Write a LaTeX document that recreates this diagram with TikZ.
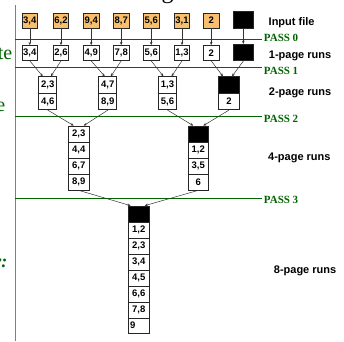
\documentclass[tikz,border=0pt]{standalone}
\usepackage{fontspec}
\setmainfont{Liberation Serif}
\setsansfont{Liberation Sans}
\usetikzlibrary{arrows.meta}
\definecolor{inorange}{RGB}{248,192,110}
\definecolor{passgreen}{RGB}{0,100,0}
\begin{document}
\begin{tikzpicture}[x=1pt,y=-1pt,
  cell/.style={draw=black!85, line width=0.7pt, inner sep=0pt,
    font=\sffamily\bfseries\fontsize{9.5}{10}\selectfont},
  inp/.style={cell, fill=inorange, minimum width=15.5pt, minimum height=15pt},
  one/.style={cell, fill=white, minimum width=15.5pt, minimum height=15pt},
  two/.style={cell, fill=white, minimum width=18pt, minimum height=16.5pt},
  four/.style={cell, fill=white, minimum width=20.5pt, minimum height=16pt},
  blk/.style={fill=black},
  arr/.style={-{Stealth[length=3.2pt,width=2.6pt]}, line width=0.5pt, draw=black!80},
  passline/.style={draw=passgreen, line width=1pt},
  passlbl/.style={anchor=base west, text=passgreen, font=\bfseries\fontsize{11}{12}\selectfont, inner sep=0pt},
  runlbl/.style={anchor=base west, font=\sffamily\bfseries\fontsize{11}{12}\selectfont, inner sep=0pt},
  frag/.style={anchor=base east, text=passgreen, font=\fontsize{20}{22}\selectfont, inner sep=0pt}
]
\useasboundingbox (0,0) rectangle (344,341);
% slide fragments
\draw[gray, line width=1.3pt] (15.3,5) -- (15.3,341);
\node[anchor=base, inner sep=0pt, font=\fontsize{24}{24}\selectfont] (ttl) at (167.5,-2) {g};
\node[frag] (f1) at (12.5,59) {te};
\node[frag] (f2) at (5.5,111.7) {e};
\node[frag, font=\bfseries\itshape\fontsize{18}{20}\selectfont] (f3) at (7.5,267) {r:};

% pass lines and labels
\foreach \yy/\t/\b in {39/0/41.3, 67/1/74, 116/2/122.7, 198.3/3/203.3}{
  \draw[passline] (15.3,\yy) -- (262,\yy);
  \node[passlbl] (p\t) at (263.7,\b) {PASS \t};
}
\node[runlbl] (l0) at (268.5,25) {Input file};
\node[runlbl] (l1) at (268.7,58) {1-page runs};
\node[runlbl] (l2) at (268.7,95) {2-page runs};
\node[runlbl] (l4) at (268,160) {4-page runs};
\node[runlbl] (l8) at (273.7,273) {8-page runs};

% input file
\node[inp] (i1) at (29.8,20.5) {3,4};
\node[inp] (i2) at (61,20.5) {6,2};
\node[inp] (i3) at (91.2,20.5) {9,4};
\node[inp] (i4) at (121.2,20.5) {8,7};
\node[inp] (i5) at (151.2,20.5) {5,6};
\node[inp] (i6) at (182,20.5) {3,1};
\node[inp] (i7) at (211.2,20.5) {2};
\node[cell, blk, minimum width=20.5pt, minimum height=16.5pt] (i8) at (243.3,20) {};

% 1-page runs
\node[one] (r1) at (29.8,53) {3,4};
\node[one] (r2) at (61,53) {2,6};
\node[one] (r3) at (91.2,53) {4,9};
\node[one] (r4) at (121.2,53) {7,8};
\node[one] (r5) at (151.2,53) {5,6};
\node[one] (r6) at (182,53) {1,3};
\node[one] (r7) at (211.2,53) {2};
\node[cell, blk, minimum width=20.5pt, minimum height=16.5pt] (r8) at (243.3,52.5) {};

\foreach \k in {1,...,8}{\draw[arr] (i\k.south) -- (r\k.north);}

% 2-page runs
\node[two] (g1a) at (47.8,85) {2,3};
\node[two] (g1b) at (47.8,101.5) {4,6};
\node[two] (g2a) at (107.8,85) {4,7};
\node[two] (g2b) at (107.8,101.5) {8,9};
\node[two] (g3a) at (167.5,85) {1,3};
\node[two] (g3b) at (167.5,101.5) {5,6};
\node[two, blk, minimum width=20.5pt] (g4a) at (229,85) {};
\node[two, minimum width=20.5pt] (g4b) at (229,101.5) {2};

\draw[arr] (r1.south) -- ([xshift=-5pt]g1a.north);
\draw[arr] (r2.south) -- ([xshift=3pt]g1a.north);
\draw[arr] (r3.south) -- ([xshift=-3pt]g2a.north);
\draw[arr] (r4.south) -- ([xshift=3pt]g2a.north);
\draw[arr] (r5.south) -- ([xshift=-4pt]g3a.north);
\draw[arr] (r6.south) -- ([xshift=4pt]g3a.north);
\draw[arr] (r7.south) -- ([xshift=-6pt]g4a.north);
\draw[arr] (r8.south) -- ([xshift=3pt]g4a.north);

% 4-page runs
\node[four] (a1) at (78.7,134) {2,3};
\node[four] (a2) at (78.7,150) {4,4};
\node[four] (a3) at (78.7,166) {6,7};
\node[four] (a4) at (78.7,182) {8,9};
\node[four, blk] (b1) at (198.3,134) {};
\node[four] (b2) at (198.3,150) {1,2};
\node[four] (b3) at (198.3,166) {3,5};
\node[four] (b4) at (198.3,182) {6};

\draw[arr] (g1b.south) -- ([xshift=-5pt]a1.north);
\draw[arr] (g2b.south) -- ([xshift=5pt]a1.north);
\draw[arr] (g3b.south) -- ([xshift=-5pt]b1.north);
\draw[arr] (g4b.south) -- ([xshift=5pt]b1.north);

% 8-page run
\node[four, blk] (c0) at (138.7,214) {};
\node[four] (c1) at (138.7,230) {1,2};
\node[four] (c2) at (138.7,246) {2,3};
\node[four] (c3) at (138.7,262) {3,4};
\node[four] (c4) at (138.7,278) {4,5};
\node[four] (c5) at (138.7,294) {6,6};
\node[four] (c6) at (138.7,310) {7,8};
\node[four, minimum height=15pt] (c7) at (138.7,325.5) {\makebox[17pt][l]{9}};

\draw[arr] (a4.south) -- ([xshift=-8pt]c0.north);
\draw[arr] (b4.south) -- ([xshift=6pt]c0.north);
\end{tikzpicture}
\end{document}
